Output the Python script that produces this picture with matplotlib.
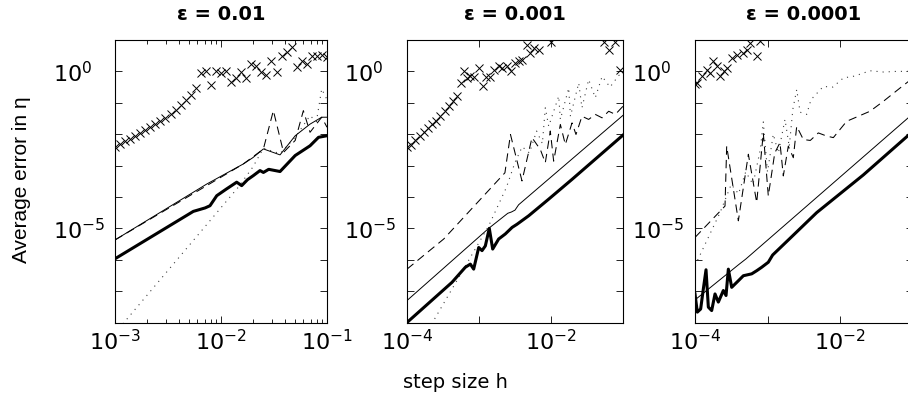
import numpy as np
import matplotlib
matplotlib.use('Agg')
import matplotlib.pyplot as plt
from matplotlib.ticker import FixedLocator, FuncFormatter, NullLocator

plt.rcParams['font.family'] = ['DejaVu Sans']
plt.rcParams['mathtext.fontset'] = 'dejavusans'

# ---------------- data (log10 values) ----------------
titles = ['ε = 0.01', 'ε = 0.001', 'ε = 0.0001']
x_label = 'step size h'
y_label = 'Average error in η'

# panel 1 : eps = 0.01
p1_cross_logh = [-3.000, -2.952, -2.905, -2.857, -2.810, -2.762, -2.714, -2.667, -2.619,
                 -2.571, -2.524, -2.476, -2.429, -2.381, -2.333, -2.286, -2.238, -2.190,
                 -2.143, -2.095, -2.048, -2.000, -1.952, -1.905, -1.857, -1.810, -1.762,
                 -1.714, -1.667, -1.619, -1.571, -1.524, -1.476, -1.429, -1.381, -1.333,
                 -1.286, -1.238, -1.190, -1.143, -1.095, -1.048, -1.000]
p1_cross_logerr = [-2.40, -2.32, -2.23, -2.14, -2.05, -1.96, -1.87, -1.78, -1.68, -1.58,
                   -1.47, -1.36, -1.22, -1.07, -0.90, -0.75, -0.52, -0.05, 0.02, -0.43,
                   0.02, -0.05, 0.02, -0.33, -0.22, -0.03, -0.22, 0.24, 0.18, -0.03,
                   -0.12, 0.34, -0.03, 0.50, 0.61, 0.77, 0.13, 0.34, 0.24, 0.48, 0.50,
                   0.52, 0.45]
p1_thin_logh = [-3.0, -2.135, -1.79, -1.70, -1.60, -1.443, -1.30, -1.16, -1.05, -1.0]
p1_thin_logerr = [-5.37, -3.59, -2.95, -2.75, -2.47, -2.66, -2.05, -1.68, -1.46, -1.46]
p1_thick_logh = [-3.0, -2.261, -2.15, -2.104, -2.04, -1.95, -1.852, -1.805, -1.75, -1.695,
                 -1.632, -1.60, -1.55, -1.443, -1.30, -1.16, -1.08, -1.0]
p1_thick_logerr = [-5.97, -4.46, -4.35, -4.28, -3.96, -3.75, -3.53, -3.64, -3.45, -3.32,
                   -3.16, -3.22, -3.12, -3.19, -2.68, -2.37, -2.10, -2.05]
p1_dash_logh = [-3.0, -1.79, -1.65, -1.60, -1.506, -1.41, -1.30, -1.223, -1.16, -1.05, -1.0]
p1_dash_logerr = [-5.37, -2.95, -2.60, -2.47, -1.25, -2.58, -2.20, -1.25, -1.94, -1.46, -1.78]
p1_dot_logh = [-3.0, -1.837, -1.70, -1.60, -1.443, -1.30, -1.16, -1.10, -1.05, -1.0]
p1_dot_logerr = [-8.34, -3.69, -3.05, -2.45, -2.62, -2.10, -1.41, -1.60, -0.56, -0.90]

# panel 2 : eps = 0.001
p2_cross_logh = [-4.000, -3.942, -3.884, -3.826, -3.768, -3.710, -3.652, -3.594, -3.536,
                 -3.478, -3.420, -3.362, -3.304, -3.245, -3.213, -3.171, -3.120, -3.074,
                 -3.004, -2.949, -2.903, -2.843, -2.796, -2.727, -2.680, -2.611, -2.551,
                 -2.505, -2.449, -2.403, -2.333, -2.287, -2.240, -2.171, -1.995, -1.268,
                 -1.199, -1.106, -1.037]
p2_cross_logerr = [-2.41, -2.33, -2.20, -2.06, -1.92, -1.80, -1.69, -1.57, -1.43, -1.27,
                   -1.11, -0.95, -0.79, -0.37, 0.00, -0.21, -0.16, -0.19, 0.11, -0.48,
                   -0.19, -0.19, 0.05, 0.16, 0.11, 0.16, 0.02, 0.27, 0.34, 0.37, 0.85,
                   0.58, 0.74, 0.69, 0.95, 0.95, 0.69, 0.95, 0.05]
p2_thin_logh = [-4.0, -2.865, -2.60, -2.55, -2.50, -2.45, -1.0]
p2_thin_logerr = [-7.30, -5.00, -4.52, -4.48, -4.42, -4.25, -1.40]
p2_thick_logh = [-4.0, -3.375, -3.19, -3.12, -3.074, -3.004, -2.958, -2.912, -2.857, -2.81,
                 -2.727, -2.635, -2.54, -2.472, -2.31, -2.032, -1.708, -1.0]
p2_thick_logerr = [-8.0, -6.72, -6.24, -6.14, -6.30, -5.61, -5.71, -5.56, -5.00, -5.66,
                   -5.34, -5.18, -4.97, -4.87, -4.60, -4.07, -3.44, -2.03]
p2_dash_logh = [-4.0, -3.49, -2.64, -2.563, -2.403, -2.264, -2.148, -2.079, -2.01, -1.963,
                -1.87, -1.801, -1.708, -1.653, -1.57, -1.477, -1.385, -1.29, -1.199,
                -1.106, -1.0]
p2_dash_logerr = [-6.30, -5.34, -3.23, -2.01, -3.49, -2.11, -2.49, -2.91, -1.90, -2.86,
                  -1.69, -2.33, -1.64, -2.01, -1.43, -1.53, -1.37, -1.48, -1.27, -1.37,
                  -1.11]
p2_dot_logh = [-4.0, -2.865, -2.62, -2.50, -2.40, -2.30, -2.20, -2.12, -2.079, -2.032,
               -1.893, -1.87, -1.754, -1.73, -1.615, -1.57, -1.477, -1.385, -1.29, -1.18,
               -1.06, -1.0]
p2_dot_logerr = [-9.40, -4.92, -3.70, -2.90, -2.40, -2.60, -1.90, -2.30, -1.16, -1.75,
                 -0.79, -1.53, -0.53, -1.43, -0.37, -1.16, -0.26, -0.84, -0.16, -0.50,
                 -0.13, -0.08]

# panel 3 : eps = 0.0001
p3_cross_logh = [-4.000, -3.977, -3.908, -3.839, -3.800, -3.747, -3.700, -3.655, -3.600,
                 -3.563, -3.494, -3.425, -3.333, -3.287, -3.241, -3.149, -3.103]
p3_cross_logerr = [-0.40, -0.37, -0.16, 0.05, -0.05, 0.32, 0.16, -0.16, 0.00, 0.11, 0.42,
                   0.53, 0.58, 0.69, 0.92, 0.48, 0.98]
p3_thin_logh = [-4.0, -3.40, -3.30, -1.0]
p3_thin_logerr = [-7.28, -6.16, -5.98, -1.36]
p3_thick_logh = [-4.0, -3.968, -3.922, -3.885, -3.848, -3.816, -3.77, -3.724, -3.678,
                 -3.609, -3.572, -3.54, -3.494, -3.402, -3.333, -3.218, -3.149, -3.08,
                 -2.989, -2.929, -2.69, -2.322, -1.679, -1.0]
p3_thick_logerr = [-7.09, -7.67, -7.57, -6.93, -6.32, -7.51, -7.62, -7.09, -7.35, -6.98,
                   -7.14, -6.30, -6.88, -6.67, -6.51, -6.45, -6.35, -6.24, -6.08, -5.85,
                   -5.32, -4.50, -3.30, -1.92]
p3_dash_logh = [-4.0, -3.586, -3.563, -3.402, -3.264, -3.149, -3.058, -2.989, -2.90,
                -2.828, -2.782, -2.713, -2.644, -2.597, -2.506, -2.41, -2.299, -2.184,
                -2.092, -1.908, -1.586, -1.40, -1.172, -1.0]
p3_dash_logerr = [-5.29, -4.29, -2.38, -4.76, -2.64, -4.18, -1.96, -3.97, -2.60, -2.27,
                  -3.33, -2.38, -2.75, -1.75, -2.17, -2.20, -1.96, -2.06, -2.11, -1.59,
                  -1.27, -0.95, -0.53, -0.22]
p3_dot_logh = [-4.0, -3.655, -3.50, -3.40, -3.30, -3.20, -3.10, -3.058, -3.0, -2.92, -2.85,
               -2.759, -2.70, -2.65, -2.597, -2.55, -2.46, -2.40, -2.23, -2.10, -1.954,
               -1.80, -1.586, -1.40, -1.218, -1.0]
p3_dot_logerr = [-6.19, -4.50, -3.60, -3.90, -3.20, -3.60, -2.50, -1.61, -3.20, -2.00,
                 -2.60, -1.53, -2.40, -1.20, -0.58, -1.30, -1.37, -0.90, -0.48, -0.50,
                 -0.21, -0.15, 0.02, -0.02, 0.00, 0.00]

panels = [
    dict(xlim=(1e-3, 1e-1), xlab=[1e-3, 1e-2, 1e-1], xmajor=[1e-3, 1e-2, 1e-1], minor=True,
         cross=(p1_cross_logh, p1_cross_logerr), thin=(p1_thin_logh, p1_thin_logerr),
         thick=(p1_thick_logh, p1_thick_logerr), dash=(p1_dash_logh, p1_dash_logerr),
         dot=(p1_dot_logh, p1_dot_logerr)),
    dict(xlim=(1e-4, 1e-1), xlab=[1e-4, 1e-2], xmajor=[1e-4, 1e-3, 1e-2, 1e-1], minor=False,
         cross=(p2_cross_logh, p2_cross_logerr), thin=(p2_thin_logh, p2_thin_logerr),
         thick=(p2_thick_logh, p2_thick_logerr), dash=(p2_dash_logh, p2_dash_logerr),
         dot=(p2_dot_logh, p2_dot_logerr)),
    dict(xlim=(1e-4, 1e-1), xlab=[1e-4, 1e-2], xmajor=[1e-4, 1e-3, 1e-2, 1e-1], minor=False,
         cross=(p3_cross_logh, p3_cross_logerr), thin=(p3_thin_logh, p3_thin_logerr),
         thick=(p3_thick_logh, p3_thick_logerr), dash=(p3_dash_logh, p3_dash_logerr),
         dot=(p3_dot_logh, p3_dot_logerr)),
]

W, H = 908, 407
fig = plt.figure(figsize=(W / 100, H / 100), dpi=100)

ax_px = [(115, 212), (407, 216), (695, 217.5)]
top_px, bot_px = 40.0, 322.5


def log_fmt(v, pos, allowed):
    for a in allowed:
        if abs(np.log10(v) - np.log10(a)) < 1e-6:
            e = int(round(np.log10(v)))
            return r'$\mathregular{10^{%d}}$' % e
    return ''


for i, p in enumerate(panels):
    l, w = ax_px[i]
    ax = fig.add_axes([l / W, 1 - bot_px / H, w / W, (bot_px - top_px) / H])
    ax.set_xscale('log')
    ax.set_yscale('log')
    ax.set_xlim(*p['xlim'])
    ax.set_ylim(1e-8, 1e1)

    hx = 10.0 ** np.array(p['dot'][0]); hy = 10.0 ** np.array(p['dot'][1])
    ax.plot(hx, hy, color='0.25', lw=0.8, dashes=(1, 4.5))
    hx = 10.0 ** np.array(p['dash'][0]); hy = 10.0 ** np.array(p['dash'][1])
    ax.plot(hx, hy, color='black', lw=0.75, dashes=(8, 5))
    hx = 10.0 ** np.array(p['thin'][0]); hy = 10.0 ** np.array(p['thin'][1])
    ax.plot(hx, hy, color='black', lw=0.7)
    hx = 10.0 ** np.array(p['thick'][0]); hy = 10.0 ** np.array(p['thick'][1])
    ax.plot(hx, hy, color='black', lw=2.2)
    hx = 10.0 ** np.array(p['cross'][0]); hy = 10.0 ** np.array(p['cross'][1])
    ax.plot(hx, hy, ls='none', marker='x', ms=5.5, mew=0.7, color='black')

    ax.yaxis.set_major_locator(FixedLocator(10.0 ** np.arange(-8, 2)))
    ax.yaxis.set_minor_locator(NullLocator())
    ax.yaxis.set_major_formatter(FuncFormatter(lambda v, pos: log_fmt(v, pos, [1.0, 1e-5])))
    ax.xaxis.set_major_locator(FixedLocator(p['xmajor']))
    xl = p['xlab']
    ax.xaxis.set_major_formatter(FuncFormatter(lambda v, pos, xl=xl: log_fmt(v, pos, xl)))
    if p['minor']:
        ax.xaxis.set_minor_locator(FixedLocator(
            [m * 10.0 ** d for d in (-3, -2) for m in range(2, 10)]))
    else:
        ax.xaxis.set_minor_locator(NullLocator())
    ax.tick_params(which='both', direction='in', top=True, right=True, labelsize=16,
                   width=0.6)
    ax.tick_params(which='major', length=5)
    ax.tick_params(which='minor', length=3)
    ax.tick_params(axis='x', pad=5)
    ax.tick_params(axis='y', pad=45)
    for t in ax.yaxis.get_majorticklabels():
        t.set_horizontalalignment('left')
    for s in ax.spines.values():
        s.set_linewidth(0.8)

    cx = (l + w / 2) / W
    fig.text(cx, 1 - 15 / H, titles[i], ha='center', va='center', fontsize=14,
             fontweight='bold')

fig.text(22 / W, 1 - 180 / H, y_label, rotation=90, ha='center', va='center',
         fontsize=15, family=['Liberation Sans Narrow', 'Liberation Sans', 'DejaVu Sans'])
fig.text(455 / W, 1 - 382 / H, x_label, ha='center', va='center', fontsize=14)

fig.savefig('out.png', dpi=100)
